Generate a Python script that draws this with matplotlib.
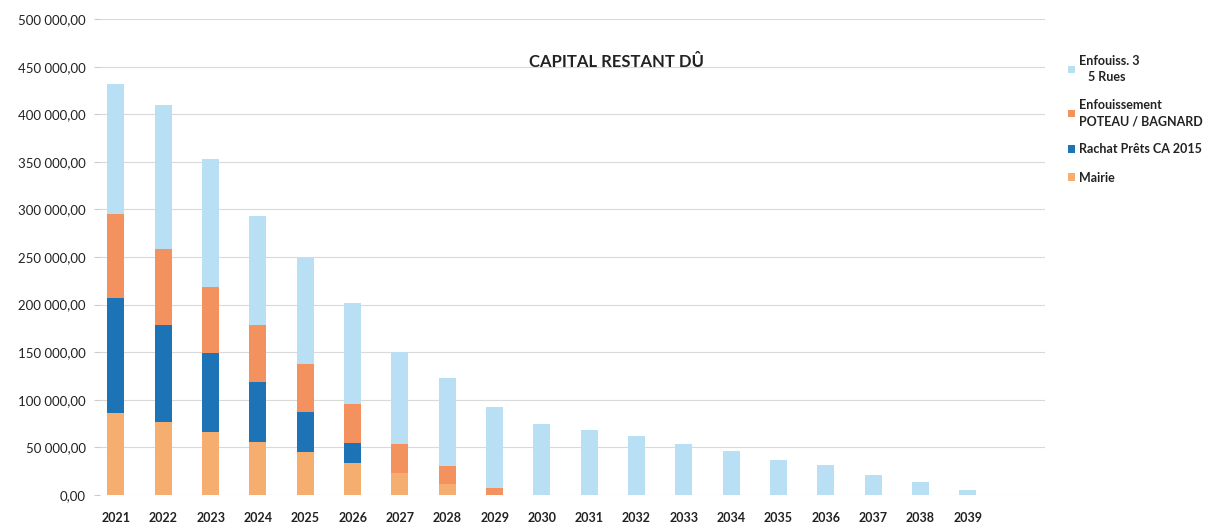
"""Capital restant dû - stacked bars."""
import numpy as np
import matplotlib.pyplot as plt
from matplotlib.ticker import FuncFormatter

plt.rcParams['font.family'] = ['Lato', 'DejaVu Sans']

years = [str(y) for y in range(2021, 2040)]

# values in euros (approx.)
mairie = [86000, 77000, 66000, 56000, 45000, 34000, 23000, 11000, 0, 0,
          0, 0, 0, 0, 0, 0, 0, 0, 0]
rachat = [121000, 102000, 83000, 63000, 42000, 21000, 0, 0, 0, 0,
          0, 0, 0, 0, 0, 0, 0, 0, 0]
poteau = [88000, 79000, 69000, 60000, 51000, 40000, 30000, 19000, 7000, 0,
          0, 0, 0, 0, 0, 0, 0, 0, 0]
rues = [137000, 152000, 135000, 114000, 111000, 107000, 97000, 93000, 85000, 74000,
        68000, 62000, 53000, 46000, 37000, 31000, 21000, 14000, 5000]

labels = ["Mairie", "Rachat Prêts CA 2015",
          "Enfouissement\nPOTEAU / BAGNARD", "Enfouiss. 3\n   5 Rues"]
colors = ["#F6AE70", "#1C74B6", "#F3915F", "#B8DFF4"]

fig = plt.figure(figsize=(12.18, 5.31), dpi=100)
ax = fig.add_axes([0.082, 0.068, 0.776, 0.896])

x = np.arange(len(years))
bottom = np.zeros(len(years))
for vals, lab, col in zip([mairie, rachat, poteau, rues], labels, colors):
    ax.bar(x, vals, 0.36, bottom=bottom, color=col, label=lab, zorder=2)
    bottom += np.asarray(vals)

ax.set_ylim(0, 500000)
ax.set_xlim(-0.34, 19.63)
ax.set_yticks(np.arange(0, 500001, 50000))
ax.yaxis.set_major_formatter(FuncFormatter(lambda v, p: f"{v:,.2f}".replace(",", " ").replace(".", ",")))
ax.set_xticks(x)
ax.set_xticklabels(years, fontweight="bold", fontsize=9, color="#222222")
ax.tick_params(axis="y", labelsize=9.5, labelcolor="#222222", length=4, color="#cccccc", pad=6)
ax.tick_params(axis="x", length=0, pad=12)
ax.grid(axis="y", color="#d9d9d9", lw=0.8, zorder=0)
for s in ax.spines.values():
    s.set_visible(False)

ax.text(0.547, 0.91, "CAPITAL RESTANT DÛ", transform=ax.transAxes,
        ha="center", va="center", fontsize=12, fontweight="bold", color="#222222")

h, l = ax.get_legend_handles_labels()
leg = fig.legend(h[::-1], l[::-1], loc="upper left", bbox_to_anchor=(0.868, 0.918),
                 frameon=False, fontsize=9, handlelength=0.55, handleheight=0.55,
                 handletextpad=0.3, labelspacing=1.3)
for t in leg.get_texts():
    t.set_fontweight("bold")
    t.set_color("#222222")
    t.set_linespacing(1.4)

fig.savefig("out.png", dpi=100)
